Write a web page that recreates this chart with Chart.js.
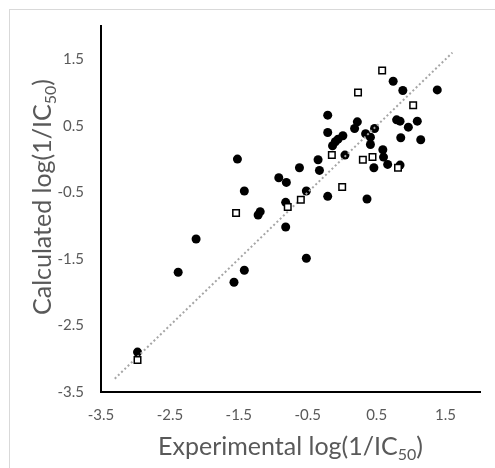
<!DOCTYPE html>
<html>
<head>
<meta charset="utf-8">
<script src="https://cdn.jsdelivr.net/npm/chart.js@4.4.1/dist/chart.umd.min.js"></script>
<style>
  html, body { margin: 0; padding: 0; background: #fff; overflow: hidden; }
  #wrap { position: relative; width: 495px; height: 468px; }
  #frame { position: absolute; left: 9px; top: 9px; width: 700px; height: 700px; border: 1px solid #d9d9d9; }
  canvas { position: absolute; left: 0; top: 0; }
</style>
</head>
<body>
<div id="wrap">
  <div id="frame"></div>
  <canvas id="grafico" width="495" height="468"></canvas>
</div>
<script>
// training set (filled circles)
const treinoX = [0.74, 0.88, 1.38, -0.21, -0.21, 0.22, 0.18, 0.01, -0.06, -0.10, -0.14, 0.34, 0.41, 0.47, 0.41,
    0.79, 0.84, 1.09, 0.96, 0.85, 1.14, 0.59, 0.60, 0.66, 0.46, 0.84, 0.04, -0.35, -0.33, -0.62,
    -0.92, -0.81, -0.52, -0.21, 0.36, -1.52, -1.42, -1.19, -1.22, -0.82, -0.82, -0.52, -2.12, -2.38, -1.42,
    -1.57, -2.97];
const treinoY = [1.17, 1.03, 1.04, 0.66, 0.40, 0.56, 0.46, 0.35, 0.30, 0.26, 0.20, 0.38, 0.33, 0.46, 0.22,
    0.59, 0.57, 0.57, 0.48, 0.32, 0.29, 0.14, 0.03, -0.08, -0.13, -0.09, 0.06, -0.01, -0.17, -0.13,
    -0.28, -0.35, -0.48, -0.56, -0.60, 0.00, -0.48, -0.79, -0.84, -0.65, -1.02, -1.49, -1.20, -1.70, -1.67,
    -1.85, -2.90];

// test set (open squares)
const testeX = [0.58, 0.23, 1.03, -0.15, 0.30, 0.44, 0.81, 0.00, -0.60, -0.79, -1.54, -2.97];
const testeY = [1.33, 1.00, 0.81, 0.06, -0.01, 0.03, -0.13, -0.42, -0.61, -0.72, -0.81, -3.02];

// y = x reference line
const linhaX = [-3.3, 1.6];
const linhaY = [-3.3, 1.6];

const ticksX = [-3.5, -2.5, -1.5, -0.5, 0.5, 1.5];
const ticksY = [-3.5, -2.5, -1.5, -0.5, 0.5, 1.5];

const tituloX = ['Experimental log(1/IC', '50', ')'];
const tituloY = ['Calculated log(1/IC', '50', ')'];

const fonte = "Lato, 'Open Sans', sans-serif";
const cinza = '#595959';

function pontos(xs, ys) {
    return xs.map((x, i) => ({ x: x, y: ys[i] }));
}

// draws an axis title with a subscript part
function desenharTitulo(ctx, partes, tamanho) {
    const fMain = `${tamanho}px ${fonte}`;
    const fSub = `${Math.round(tamanho * 0.62)}px ${fonte}`;
    ctx.font = fMain;
    const w0 = ctx.measureText(partes[0]).width;
    const w2 = ctx.measureText(partes[2]).width;
    ctx.font = fSub;
    const w1 = ctx.measureText(partes[1]).width;
    const total = w0 + w1 + w2;
    let x = -total / 2;
    ctx.textBaseline = 'alphabetic';
    ctx.textAlign = 'left';
    ctx.fillStyle = cinza;
    ctx.font = fMain;
    ctx.fillText(partes[0], x, 0);
    x += w0;
    ctx.font = fSub;
    ctx.fillText(partes[1], x, tamanho * 0.2);
    x += w1;
    ctx.font = fMain;
    ctx.fillText(partes[2], x, 0);
}

const titulosPlugin = {
    id: 'titulos',
    afterDraw(chart) {
        const ctx = chart.ctx;
        const area = chart.chartArea;
        ctx.save();
        ctx.translate((area.left + area.right) / 2, 455);
        desenharTitulo(ctx, tituloX, 25);
        ctx.restore();

        ctx.save();
        ctx.translate(51, 197);
        ctx.rotate(-Math.PI / 2);
        desenharTitulo(ctx, tituloY, 25);
        ctx.restore();
    }
};

const ctx = document.getElementById('grafico').getContext('2d');
const grafico = new Chart(ctx, {
    type: 'scatter',
    data: {
        datasets: [
            {
                label: 'Teste',
                data: pontos(testeX, testeY),
                pointStyle: 'rect',
                pointRadius: 4.6,
                pointHoverRadius: 4.6,
                backgroundColor: '#ffffff',
                borderColor: '#000000',
                borderWidth: 1.5,
                order: 1
            },
            {
                label: 'y = x',
                data: pontos(linhaX, linhaY),
                showLine: true,
                pointRadius: 0,
                borderColor: '#a6a6a6',
                borderWidth: 2,
                borderDash: [2, 2.5],
                order: 2
            },
            {
                label: 'Treino',
                data: pontos(treinoX, treinoY),
                pointStyle: 'circle',
                pointRadius: 4.5,
                pointHoverRadius: 4.5,
                backgroundColor: '#000000',
                borderColor: '#000000',
                borderWidth: 0,
                order: 3
            }
        ]
    },
    options: {
        responsive: false,
        animation: false,
        events: [],
        layout: { padding: { left: 0, top: 25, right: 15, bottom: 0 } },
        plugins: {
            legend: { display: false },
            tooltip: { enabled: false }
        },
        scales: {
            x: {
                type: 'linear',
                min: -3.5,
                max: 2,
                afterBuildTicks: (scale) => { scale.ticks = ticksX.map(v => ({ value: v })); },
                afterFit: (scale) => { scale.height = 76; },
                grid: { display: false, drawTicks: false },
                border: { display: true, color: '#000000', width: 2 },
                ticks: {
                    color: cinza,
                    padding: 14,
                    maxRotation: 0,
                    font: { family: fonte, size: 15 },
                    callback: (v) => v.toFixed(1)
                }
            },
            y: {
                type: 'linear',
                min: -3.5,
                max: 2,
                afterBuildTicks: (scale) => { scale.ticks = ticksY.map(v => ({ value: v })); },
                afterFit: (scale) => { scale.width = 101; },
                grid: { display: false, drawTicks: false },
                border: { display: true, color: '#000000', width: 2 },
                ticks: {
                    color: cinza,
                    padding: 17,
                    font: { family: fonte, size: 15 },
                    callback: (v) => v.toFixed(1)
                }
            }
        }
    },
    plugins: [titulosPlugin]
});
</script>
</body>
</html>
